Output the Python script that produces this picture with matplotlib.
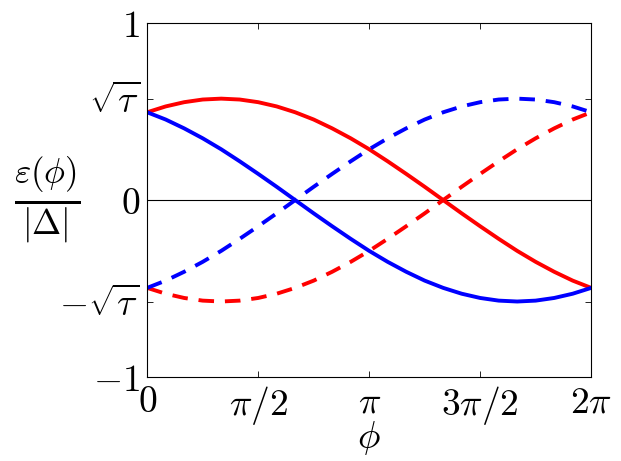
import matplotlib
matplotlib.use("Agg")
import matplotlib.pyplot as plt
import numpy as np

plt.rcParams['mathtext.fontset'] = 'cm'
plt.rcParams['font.family'] = 'serif'
plt.rcParams['font.serif'] = ['DejaVu Serif']

# phi sampled every pi/12 on [0, 2pi]
phi = np.arange(25) * np.pi / 12
sqrt_tau = 0.573

red_solid = [0.496, 0.529, 0.553, 0.568, 0.573, 0.568, 0.553, 0.529, 0.496, 0.455,
             0.405, 0.349, 0.287, 0.219, 0.148, 0.075, 0.0, -0.075, -0.148, -0.219,
             -0.287, -0.349, -0.405, -0.455, -0.496]
blue_solid = [0.496, 0.455, 0.405, 0.349, 0.287, 0.219, 0.148, 0.075, 0.0, -0.075,
              -0.148, -0.219, -0.287, -0.349, -0.405, -0.455, -0.496, -0.529, -0.553,
              -0.568, -0.573, -0.568, -0.553, -0.529, -0.496]
red_dashed = [-v for v in red_solid]
blue_dashed = [-v for v in blue_solid]

xticks = [0, np.pi / 2, np.pi, 3 * np.pi / 2, 2 * np.pi]
xticklabels = [r'$0$', r'$\pi/2$', r'$\pi$', r'$3\pi/2$', r'$2\pi$']
yticks = [-1, -sqrt_tau, 0, sqrt_tau, 1]
yticklabels = [r'$-1$', r'$-\sqrt{\tau}$', r'$0$', r'$\sqrt{\tau}$', r'$1$']

fig = plt.figure(figsize=(6.21, 4.61), dpi=100)
ax = fig.add_axes([0.237, 0.182, 0.715, 0.768])

lw = 2.8
dash = (0, (4, 2.8))
ax.axhline(0, color='black', lw=0.8)
ax.plot(phi, red_solid, color='#ff0000', lw=lw)
ax.plot(phi, blue_solid, color='#0000ff', lw=lw)
ax.plot(phi, red_dashed, color='#ff0000', lw=lw, linestyle=dash)
ax.plot(phi, blue_dashed, color='#0000ff', lw=lw, linestyle=dash)

ax.set_xlim(0, 2 * np.pi)
ax.set_ylim(-1, 1)
ax.set_xticks(xticks)
ax.set_xticklabels(xticklabels)
ax.set_yticks(yticks)
ax.set_yticklabels(yticklabels)
ax.tick_params(direction='in', top=True, right=True, labelsize=27, length=4,
               width=0.6, pad=5)
for s in ax.spines.values():
    s.set_linewidth(0.8)

ax.set_xlabel(r'$\phi$', fontsize=27, labelpad=-6)
ax.text(-0.225, 0.5, r'$\frac{\varepsilon(\phi)}{|\Delta|}$', transform=ax.transAxes,
        fontsize=36, ha='center', va='center')

fig.savefig('out.png', dpi=100)
